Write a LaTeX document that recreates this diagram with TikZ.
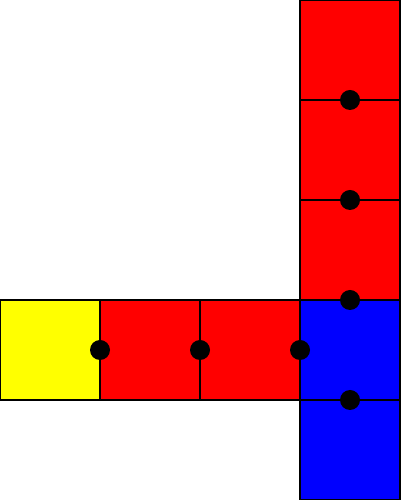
\documentclass[tikz,border=0pt]{standalone}
\usetikzlibrary{positioning}
\definecolor{PureRed}{RGB}{255,0,0}
\definecolor{PureBlue}{RGB}{0,0,255}
\definecolor{PureYellow}{RGB}{255,255,0}
\tikzset{
  cell/.style={draw=black,thin,minimum size=1cm,inner sep=0pt,outer sep=0pt},
  redcell/.style={cell,fill=PureRed},
  bluecell/.style={cell,fill=PureBlue},
  yellowcell/.style={cell,fill=PureYellow},
  joint/.style={circle,fill=black,minimum size=0.2cm,inner sep=0pt}
}
\begin{document}
\begin{tikzpicture}[node distance=0cm]
  \useasboundingbox (0,0) rectangle (4,5);
  \node[yellowcell] (y1) at (0.5,1.5) {};
  \node[redcell,right=of y1] (h1) {};
  \node[redcell,right=of h1] (h2) {};
  \node[bluecell,right=of h2] (b1) {};
  \node[bluecell,below=of b1] (b2) {};
  \node[redcell,above=of b1] (v1) {};
  \node[redcell,above=of v1] (v2) {};
  \node[redcell,above=of v2] (v3) {};
  % joints between neighbouring cells
  \foreach \n in {y1,h1,h2}
    \node[joint] at (\n.east) {};
  \foreach \n in {b1,v1,v2,v3}
    \node[joint] at (\n.south) {};
\end{tikzpicture}
\end{document}
